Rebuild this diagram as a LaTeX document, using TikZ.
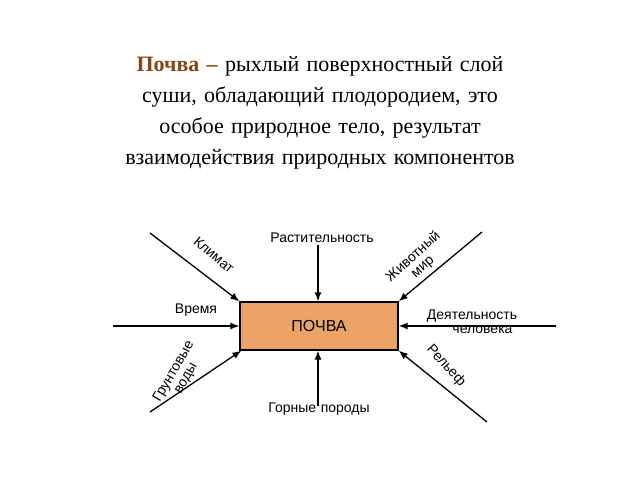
\documentclass[tikz,border=0pt]{standalone}
\usepackage{fontspec}
\setmainfont{Liberation Serif}
\newfontfamily\dsans{Liberation Sans}
\usetikzlibrary{arrows.meta}
\definecolor{brownt}{HTML}{8B4513}
\definecolor{boxfill}{HTML}{EBA466}
\begin{document}
\begin{tikzpicture}[x=1pt,y=-1pt,
  lbl/.style={font=\dsans\fontsize{14}{15}\selectfont, inner sep=1pt},
  arr/.style={line width=1.3pt, -{Latex[length=9pt,width=7pt]}}]
\useasboundingbox (0,0) rectangle (640,480);
\node[align=center, font=\fontsize{22}{31}\selectfont, text width=480pt] (title) at (320,113)
 {{\color{brownt}\bfseries Почва –} рыхлый поверхностный слой суши, обладающий плодородием, это особое природное тело, результат взаимодействия природных компонентов};
\node[draw, line width=1.3pt, fill=boxfill, minimum width=158pt, minimum height=48pt, font=\dsans\fontsize{16}{18}\selectfont] (soil) at (319,326) {ПОЧВА};
\coordinate (t) at (318,245); \coordinate (l) at (113,326); \coordinate (r) at (556,326);
\coordinate (b) at (318,406); \coordinate (tl) at (150,233); \coordinate (bl) at (150,412);
\coordinate (tr) at (482,232); \coordinate (br) at (487,422);
\draw[arr] (t) -- (soil.north -| t);
\draw[arr] (l) -- (soil.west);
\draw[arr] (r) -- (soil.east);
\draw[arr] (b) -- (soil.south -| b);
\draw[arr] (tl) -- (soil.north west);
\draw[arr] (bl) -- ([xshift=2pt]soil.south west);
\draw[arr] (tr) -- (soil.north east);
\draw[arr] (br) -- (soil.south east);
\node[lbl] (n1) at (322,238) {Растительность};
\node[lbl] (n2) at (196,310) {Время};
\node[lbl, align=center] (n3) at (472,322) {Деятельность\\[-1pt]\hspace*{1.5em}человека};
\node[lbl] (n4) at (319,409) {Горные\,\,породы};
\node[lbl, rotate=-40] (n5) at (214,255) {Климат};
\node[lbl, rotate=42, align=center] (n6) at (418,262) {Животный\\[-1pt]мир};
\node[lbl, rotate=60, align=center] (n7) at (180,375) {Грунтовые\\[-1pt]воды};
\node[lbl, rotate=-48] (n8) at (446,366) {Рельеф};
\end{tikzpicture}
\end{document}
